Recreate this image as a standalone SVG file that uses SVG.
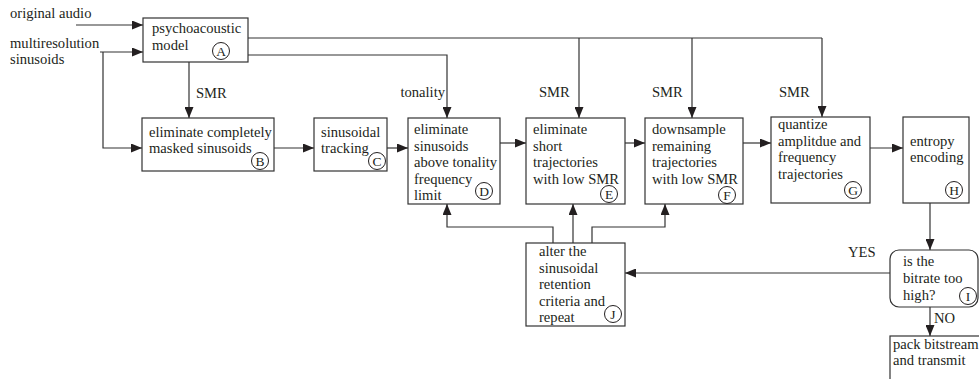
<svg xmlns="http://www.w3.org/2000/svg" width="979" height="379" viewBox="0 0 979 379">
<defs>
<marker id="ah" markerUnits="userSpaceOnUse" markerWidth="11" markerHeight="9" refX="11" refY="4.5" orient="auto">
<path d="M0,0 L11,4.5 L0,9 z" fill="#231f20"/>
</marker>
<style>
text{font-family:"Liberation Serif","Times New Roman",serif;font-size:14.6px;fill:#231f20}
.box{fill:#fff;stroke:#333;stroke-width:1.2}
.c{fill:none;stroke:#231f20;stroke-width:1}
.lt{text-anchor:middle;font-size:13.5px}
.ln{fill:none;stroke:#333;stroke-width:1.2}
.ar{fill:none;stroke:#333;stroke-width:1.2;marker-end:url(#ah)}
</style>
</defs>
<rect width="979" height="379" fill="#fff"/>

<g id="inputs">
<text x="10" y="18">original audio</text>
<text x="10" y="48">multiresolution</text>
<text x="10" y="64">sinusoids</text>
</g>

<g id="connectors">
<path class="ar" d="M76,25 H143"/>
<path class="ar" d="M100,52 H143"/>
<path class="ar" d="M103,52 V148 H142"/>
<path class="ar" d="M189,62 V118"/>
<path class="ln" d="M248,38 H822"/>
<path class="ar" d="M248,55 H447 V118"/>
<path class="ar" d="M579,38 V118"/>
<path class="ar" d="M692,38 V118"/>
<path class="ar" d="M822,38 V117"/>
<path class="ar" d="M274,148 H314"/>
<path class="ar" d="M387,148 H408"/>
<path class="ar" d="M500,143 H526"/>
<path class="ar" d="M625,143 H645"/>
<path class="ar" d="M743,143 H771"/>
<path class="ar" d="M870,148 H903"/>
<path class="ar" d="M930,203 V250"/>
<path class="ar" d="M890,273 H625"/>
<path class="ar" d="M930,307 V336"/>
<path class="ar" d="M553,243 V227 H447 V204"/>
<path class="ar" d="M573,243 V204"/>
<path class="ar" d="M592,243 V227 H665 V204"/>
<text x="196" y="98">SMR</text>
<text x="445" y="97" text-anchor="end">tonality</text>
<text x="539" y="97">SMR</text>
<text x="652" y="97">SMR</text>
<text x="779" y="97">SMR</text>
<text x="848" y="257">YES</text>
<text x="934" y="323">NO</text>
</g>

<g id="nodeA">
<rect class="box" x="143" y="18" width="105" height="44"/>
<text x="152" y="33">psychoacoustic</text>
<text x="152" y="50">model</text>
<circle class="c" cx="221" cy="51" r="8.5"/>
<text class="lt" x="221" y="55.5">A</text>
</g>

<g id="nodeB">
<rect class="box" x="142" y="118" width="132" height="53"/>
<text x="149" y="137">eliminate completely</text>
<text x="149" y="153">masked sinusoids</text>
<circle class="c" cx="260" cy="161" r="8.5"/>
<text class="lt" x="260" y="165.5">B</text>
</g>

<g id="nodeC">
<rect class="box" x="314" y="118" width="73" height="53"/>
<text x="321" y="137">sinusoidal</text>
<text x="321" y="153">tracking</text>
<circle class="c" cx="377" cy="161" r="8.5"/>
<text class="lt" x="377" y="165.5">C</text>
</g>

<g id="nodeD">
<rect class="box" x="408" y="118" width="92" height="86"/>
<text x="414" y="134">eliminate</text>
<text x="414" y="150.5">sinusoids</text>
<text x="414" y="167">above tonality</text>
<text x="414" y="183.5">frequency</text>
<text x="414" y="200">limit</text>
<circle class="c" cx="484" cy="191" r="8.5"/>
<text class="lt" x="484" y="195.5">D</text>
</g>

<g id="nodeE">
<rect class="box" x="526" y="118" width="99" height="86"/>
<text x="533" y="134">eliminate</text>
<text x="533" y="150.5">short</text>
<text x="533" y="167">trajectories</text>
<text x="533" y="183.5">with low SMR</text>
<circle class="c" cx="609" cy="194" r="8.5"/>
<text class="lt" x="609" y="198.5">E</text>
</g>

<g id="nodeF">
<rect class="box" x="645" y="118" width="98" height="86"/>
<text x="652" y="134">downsample</text>
<text x="652" y="150.5">remaining</text>
<text x="652" y="167">trajectories</text>
<text x="652" y="183.5">with low SMR</text>
<circle class="c" cx="727" cy="195" r="8.5"/>
<text class="lt" x="727" y="199.5">F</text>
</g>

<g id="nodeG">
<rect class="box" x="771" y="117" width="99" height="86"/>
<text x="778" y="129">quantize</text>
<text x="778" y="145.5">amplitdue and</text>
<text x="778" y="162">frequency</text>
<text x="778" y="178.5">trajectories</text>
<circle class="c" cx="853" cy="190" r="8.5"/>
<text class="lt" x="853" y="194.5">G</text>
</g>

<g id="nodeH">
<rect class="box" x="903" y="117" width="66" height="86"/>
<text x="910" y="146">entropy</text>
<text x="910" y="162">encoding</text>
<circle class="c" cx="954" cy="190" r="8.5"/>
<text class="lt" x="954" y="194.5">H</text>
</g>

<g id="nodeI">
<rect class="box" x="890" y="250" width="88" height="57" rx="9" ry="9"/>
<text x="903" y="266">is the</text>
<text x="903" y="283">bitrate too</text>
<text x="903" y="300">high?</text>
<circle class="c" cx="968" cy="296" r="8.5"/>
<text class="lt" x="968" y="300.5">I</text>
</g>

<g id="nodeJ">
<rect class="box" x="526" y="243" width="99" height="83"/>
<text x="539" y="256">alter the</text>
<text x="539" y="272.5">sinusoidal</text>
<text x="539" y="289">retention</text>
<text x="539" y="305.5">criteria and</text>
<text x="539" y="322">repeat</text>
<circle class="c" cx="613" cy="314" r="8.5"/>
<text class="lt" x="613" y="318.5">J</text>
</g>

<g id="nodePack">
<rect class="box" x="890" y="336" width="100" height="50"/>
<text x="893" y="349">pack bitstream</text>
<text x="893" y="365">and transmit</text>
</g>
</svg>
